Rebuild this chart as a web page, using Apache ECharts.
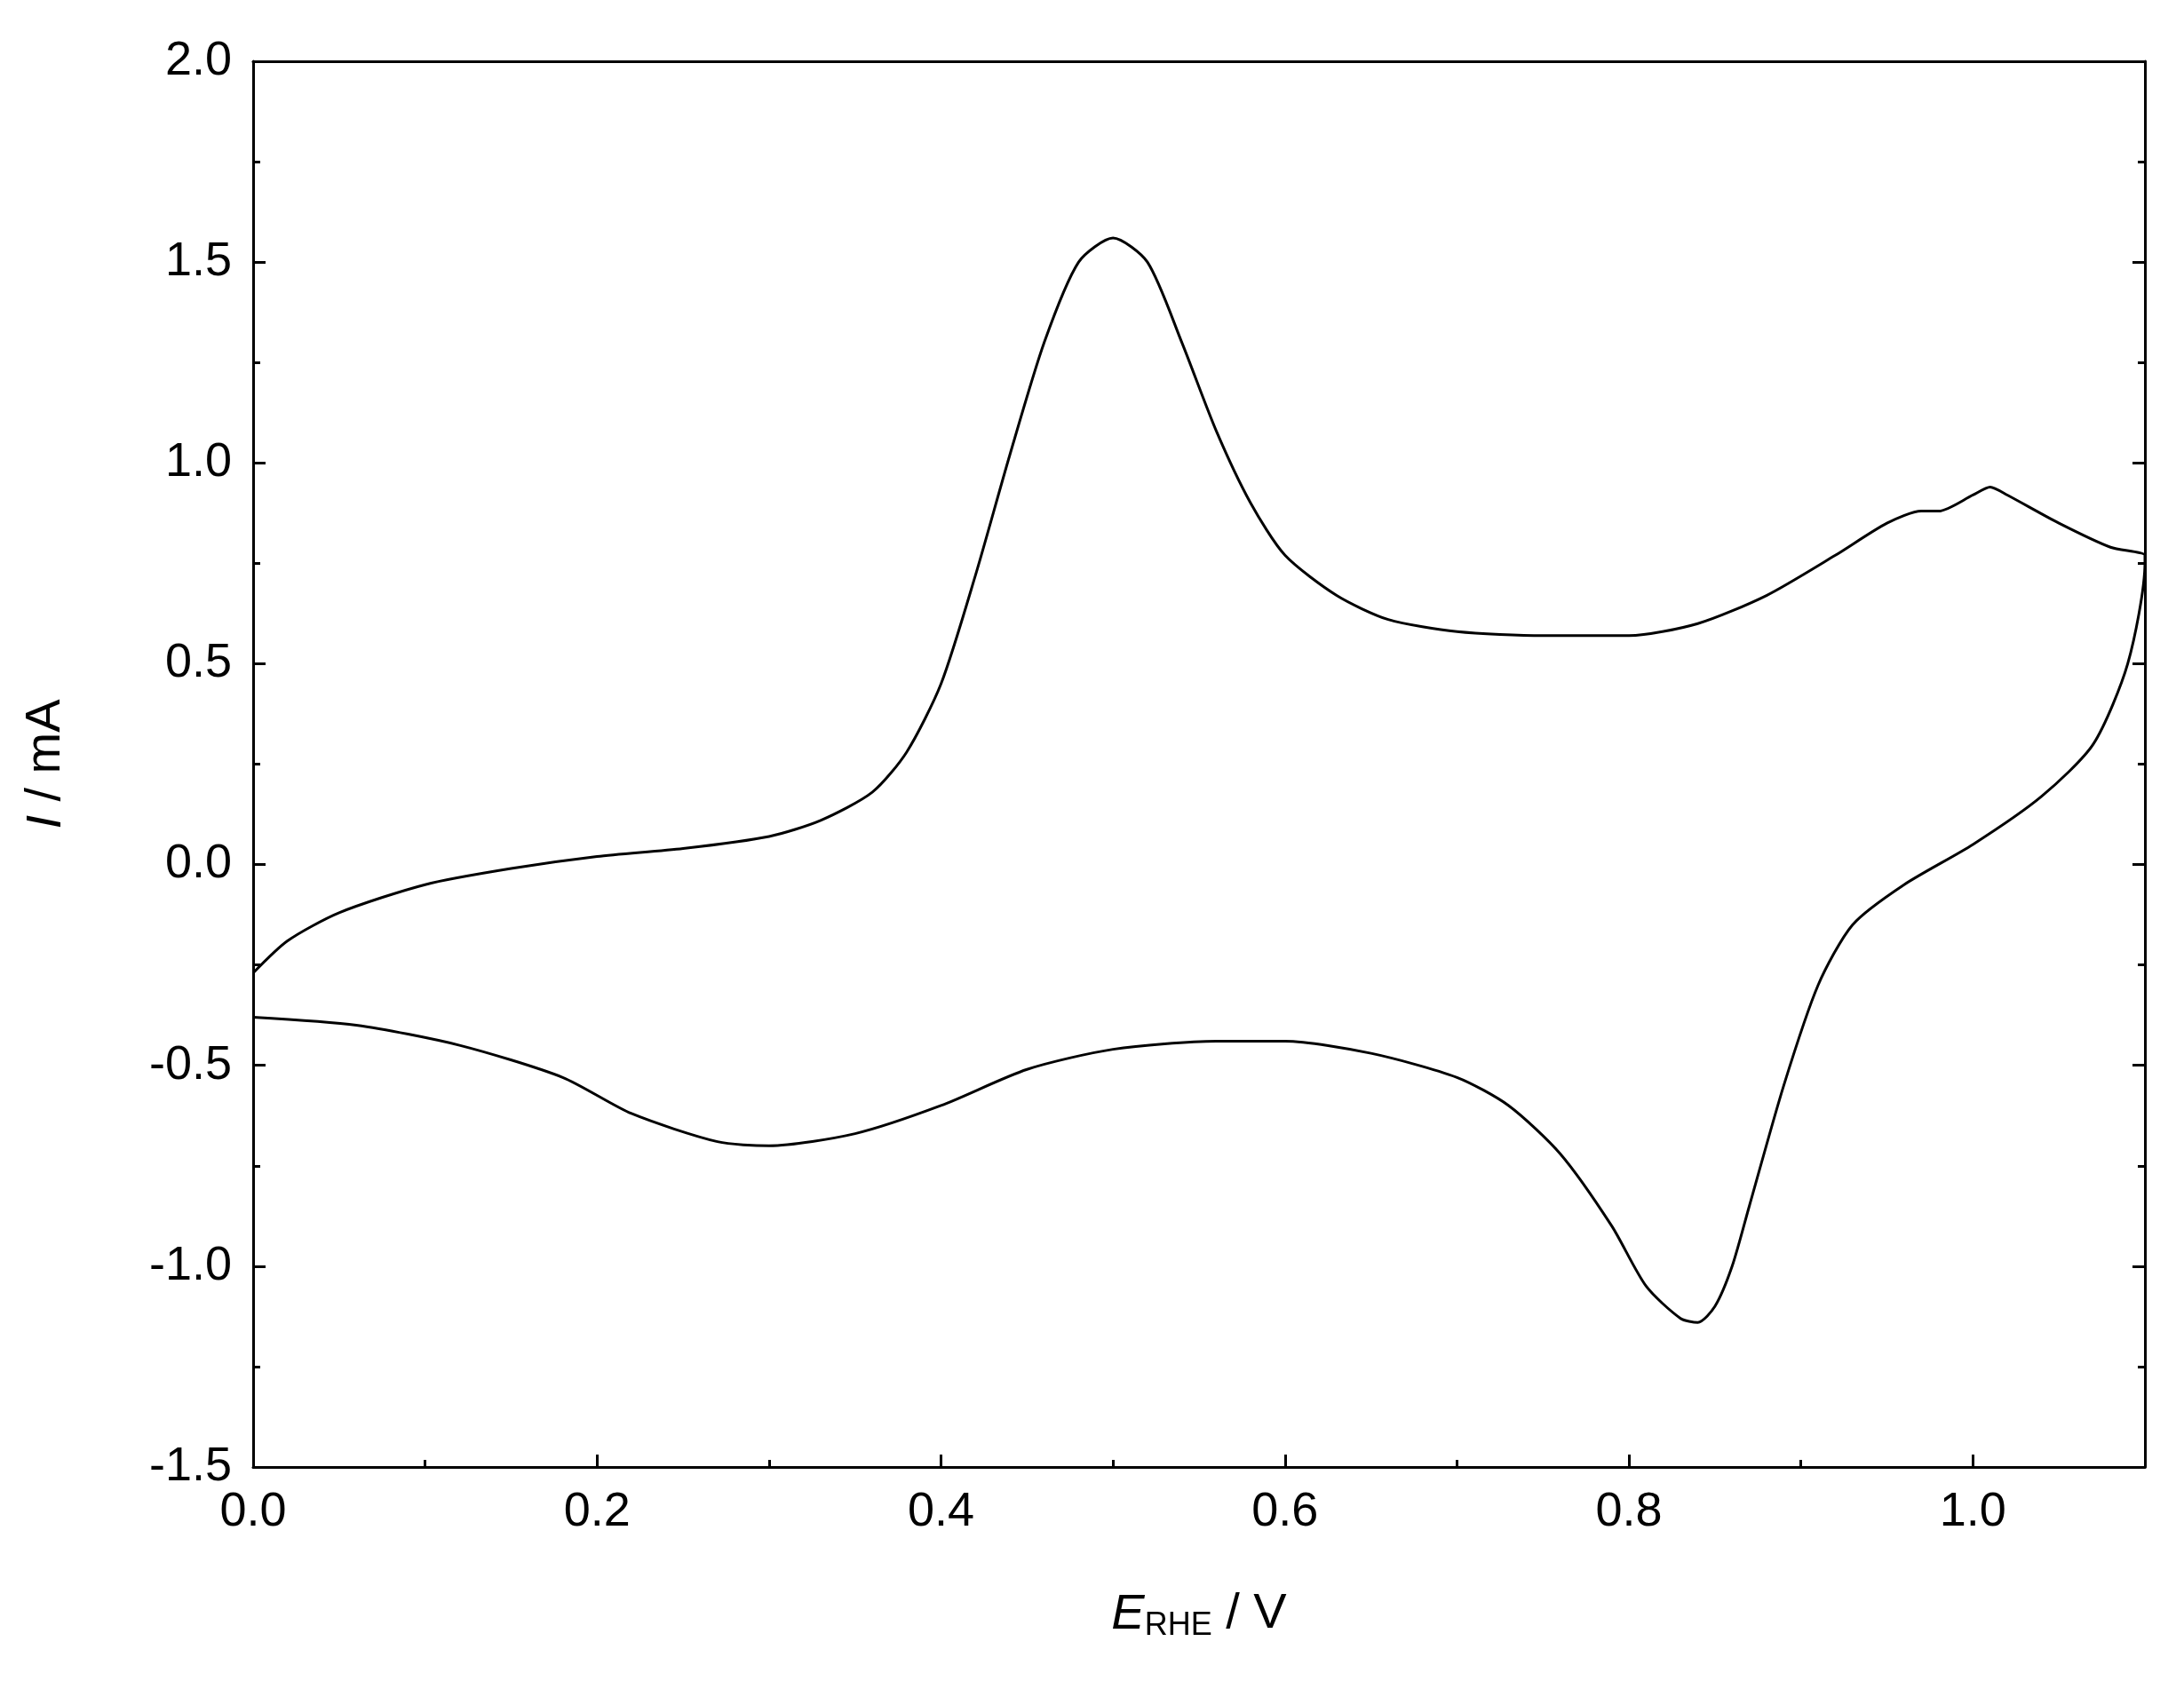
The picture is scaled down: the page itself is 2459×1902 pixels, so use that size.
<!DOCTYPE html>
<html>
<head>
<meta charset="utf-8">
<script src="https://cdn.jsdelivr.net/npm/echarts@6/dist/echarts.min.js"></script>
<style>html,body{margin:0;padding:0;background:#fff}#main{width:2459px;height:1902px}</style>
</head>
<body>
<div id="main"></div>
<script>
// anodic sweep (E / V, I / mA)
var anodicE = [0, 0.02, 0.05, 0.1, 0.15, 0.2, 0.25, 0.3, 0.33, 0.36, 0.38, 0.40, 0.42, 0.44, 0.46, 0.48, 0.50, 0.52, 0.54, 0.56, 0.58, 0.60, 0.63, 0.66, 0.70, 0.75, 0.80, 0.84, 0.88, 0.92, 0.95, 0.97, 0.98, 1.0, 1.01, 1.02, 1.05, 1.08, 1.1];
var anodicI = [-0.27, -0.19, -0.12, -0.05, -0.01, 0.02, 0.04, 0.07, 0.11, 0.18, 0.28, 0.45, 0.72, 1.02, 1.30, 1.50, 1.56, 1.50, 1.30, 1.08, 0.90, 0.77, 0.67, 0.61, 0.58, 0.57, 0.57, 0.60, 0.67, 0.77, 0.85, 0.88, 0.88, 0.92, 0.94, 0.92, 0.85, 0.79, 0.77];
// cathodic sweep
var cathodicE = [1.1, 1.09, 1.07, 1.04, 1.0, 0.96, 0.93, 0.91, 0.89, 0.87, 0.86, 0.85, 0.84, 0.83, 0.81, 0.79, 0.76, 0.73, 0.70, 0.65, 0.6, 0.56, 0.5, 0.45, 0.40, 0.35, 0.30, 0.27, 0.22, 0.18, 0.12, 0.06, 0];
var cathodicI = [0.75, 0.5, 0.3, 0.17, 0.05, -0.05, -0.15, -0.3, -0.55, -0.85, -1.0, -1.1, -1.14, -1.13, -1.05, -0.9, -0.72, -0.6, -0.53, -0.47, -0.44, -0.44, -0.46, -0.51, -0.6, -0.67, -0.70, -0.69, -0.62, -0.53, -0.45, -0.40, -0.38];

var pts = [];
anodicE.forEach(function (e, i) { pts.push([e, anodicI[i]]); });
cathodicE.forEach(function (e, i) { pts.push([e, cathodicI[i]]); });

var font = "Liberation Sans, Arial, sans-serif";
var axisLine = { show: true, onZero: false, lineStyle: { color: "#000", width: 3 } };
var tick = { show: true, inside: true, length: 14, lineStyle: { color: "#000", width: 3 } };
var minor = { show: true, splitNumber: 2, length: 8, lineStyle: { color: "#000", width: 3 } };
var lbl = { color: "#000", fontSize: 54, fontFamily: font, margin: 24 };
function fmt(v) { return v > 1.05 ? "" : v.toFixed(1); }

var myChart = echarts.init(document.getElementById("main"));
myChart.setOption({
  animation: false,
  grid: { left: 285, right: 44, top: 69, bottom: 250 },
  xAxis: [{
    type: "value", min: 0, max: 1.1, interval: 0.2,
    axisLine: axisLine, axisTick: tick, minorTick: minor, splitLine: { show: false },
    axisLabel: Object.assign({ formatter: fmt, showMaxLabel: false }, lbl),
    name: "{i|E}{s|RHE}{n| / V}", nameLocation: "middle", nameGap: 135,
    nameTextStyle: { rich: {
      i: { fontSize: 56, fontStyle: "italic", fontFamily: font, color: "#000" },
      s: { fontSize: 36, fontFamily: font, color: "#000", verticalAlign: "bottom", padding: [26, 0, 0, 0] },
      n: { fontSize: 56, fontFamily: font, color: "#000" } } }
  }, {
    type: "value", position: "top", min: 0, max: 1.1,
    axisLine: axisLine, axisTick: { show: false }, axisLabel: { show: false }, splitLine: { show: false }
  }],
  yAxis: [{
    type: "value", min: -1.5, max: 2.0, interval: 0.5,
    axisLine: axisLine, axisTick: tick, minorTick: minor, splitLine: { show: false },
    axisLabel: Object.assign({ formatter: function (v) { return v.toFixed(1); } }, lbl),
    name: "{i|I}{n| / mA}", nameLocation: "middle", nameGap: 205, nameRotate: 90,
    nameTextStyle: { rich: {
      i: { fontSize: 56, fontStyle: "italic", fontFamily: font, color: "#000" },
      n: { fontSize: 56, fontFamily: font, color: "#000" } } }
  }, {
    type: "value", position: "right", min: -1.5, max: 2.0, interval: 0.5,
    axisLine: axisLine, axisTick: tick, minorTick: minor, axisLabel: { show: false }, splitLine: { show: false }
  }],
  series: [{
    type: "line", data: pts, smooth: 0.25, showSymbol: false,
    lineStyle: { color: "#000", width: 3 }
  }]
});
</script>
</body>
</html>
